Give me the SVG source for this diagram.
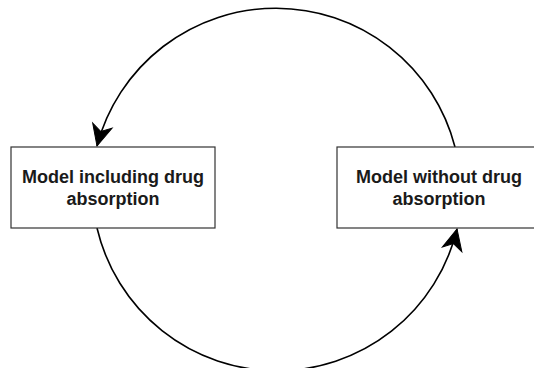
<svg xmlns="http://www.w3.org/2000/svg" width="534" height="368" viewBox="0 0 534 368">
<style>
.box{fill:#fff;stroke:#333;stroke-width:1.2}
.lbl{font-family:"Liberation Sans",Arial,sans-serif;font-weight:bold;font-size:18px;fill:#1a1a1a;text-anchor:middle}
.edge{fill:none;stroke:#000;stroke-width:1.6}
</style>
<defs>
<marker id="arr" markerUnits="userSpaceOnUse" markerWidth="30" markerHeight="30" viewBox="-25 -15 30 30" refX="0" refY="0" orient="auto" overflow="visible">
<path d="M0,0 L-21,-10 L-15,0 L-21,10 Z" fill="#000" stroke="#000" stroke-width="1"/>
</marker>
</defs>
<rect width="534" height="368" fill="#fff"/>
<g id="connectors">
<path class="edge" d="M455,147 A185,185 0 0 0 97,146" marker-end="url(#arr)"/>
<path class="edge" d="M97,228 A185,185 0 0 0 457,229" marker-end="url(#arr)"/>
</g>
<g id="node-including">
<rect class="box" x="11" y="147" width="204" height="81"/>
<text class="lbl" x="113" y="183">Model including drug</text>
<text class="lbl" x="113" y="205">absorption</text>
</g>
<g id="node-without">
<rect class="box" x="337" y="147" width="204" height="81"/>
<text class="lbl" x="439" y="183">Model without drug</text>
<text class="lbl" x="439" y="205">absorption</text>
</g>
</svg>
